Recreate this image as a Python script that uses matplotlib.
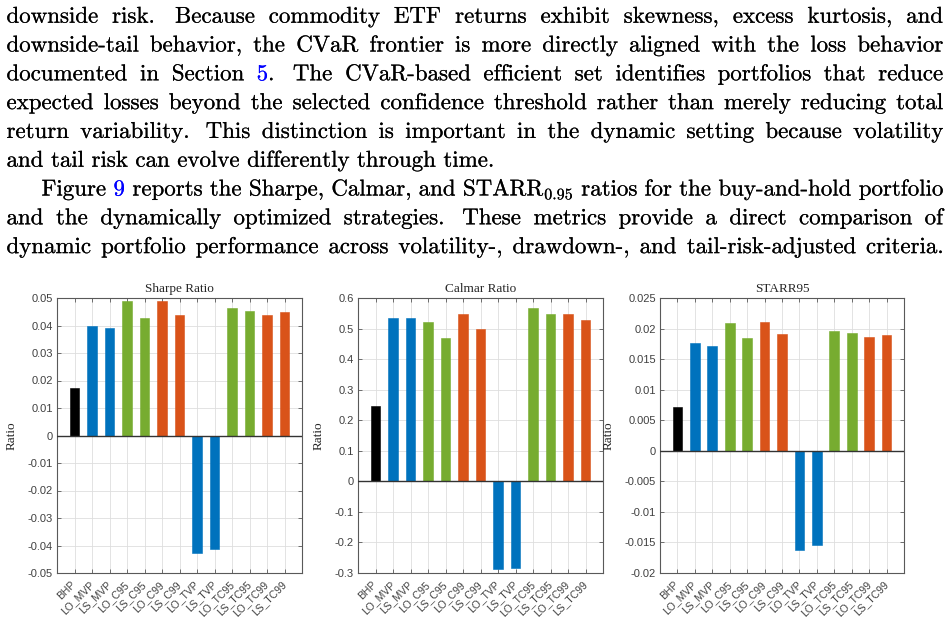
import matplotlib
matplotlib.use("Agg")
import matplotlib.pyplot as plt
import matplotlib.transforms as mtransforms
import matplotlib.patheffects as pe
import re

plt.rcParams['mathtext.fontset'] = 'cm'

# ---------------- data ----------------
categories = ["BHP", "LO_MVP", "LS_MVP", "LO_C95", "LS_C95", "LO_C99", "LS_C99",
              "LO_TVP", "LS_TVP", "LO_TC95", "LS_TC95", "LO_TC99", "LS_TC99"]

sharpe = [0.0174, 0.0399, 0.0390, 0.0488, 0.0429, 0.0488, 0.0440,
          -0.0429, -0.0413, 0.0462, 0.0453, 0.0438, 0.0448]
calmar = [0.245, 0.536, 0.536, 0.521, 0.468, 0.549, 0.500,
          -0.286, -0.283, 0.566, 0.547, 0.547, 0.529]
starr = [0.0072, 0.01756, 0.01718, 0.02095, 0.01849, 0.02105, 0.01909,
         -0.0162, -0.01544, 0.01958, 0.01931, 0.01865, 0.01898]

bar_colors = ["#000000", "#0072BD", "#0072BD", "#77AC30", "#77AC30", "#D95319", "#D95319",
              "#0072BD", "#0072BD", "#77AC30", "#77AC30", "#D95319", "#D95319"]

sharpe_ticks = [-0.05, -0.04, -0.03, -0.02, -0.01, 0, 0.01, 0.02, 0.03, 0.04, 0.05]
sharpe_ticklabels = ["-0.05", "-0.04", "-0.03", "-0.02", "-0.01", "0", "0.01", "0.02", "0.03", "0.04", "0.05"]
calmar_ticks = [-0.3, -0.2, -0.1, 0, 0.1, 0.2, 0.3, 0.4, 0.5, 0.6]
calmar_ticklabels = ["-0.3", "-0.2", "-0.1", "0", "0.1", "0.2", "0.3", "0.4", "0.5", "0.6"]
starr_ticks = [-0.02, -0.015, -0.01, -0.005, 0, 0.005, 0.01, 0.015, 0.02, 0.025]
starr_ticklabels = ["-0.02", "-0.015", "-0.01", "-0.005", "0", "0.005", "0.01", "0.015", "0.02", "0.025"]

titles = ["Sharpe Ratio", "Calmar Ratio", "STARR95"]
ylabel = "Ratio"

# paragraph text («...» = blue link)
text_lines = [
    "downside risk.  Because commodity ETF returns exhibit skewness, excess kurtosis, and",
    "downside-tail behavior, the CVaR frontier is more directly aligned with the loss behavior",
    "documented in Section «5».  The CVaR-based efficient set identifies portfolios that reduce",
    "expected losses beyond the selected confidence threshold rather than merely reducing total",
    "return variability.  This distinction is important in the dynamic setting because volatility",
    "and tail risk can evolve differently through time.",
    "Figure «9» reports the Sharpe, Calmar, and STARR$_{0.95}$ ratios for the buy-and-hold portfolio",
    "and the dynamically optimized strategies.  These metrics provide a direct comparison of",
    "dynamic portfolio performance across volatility-, drawdown-, and tail-risk-adjusted criteria.",
]
justified = [True, True, True, True, True, False, True, True, True]
indented = [False, False, False, False, False, False, True, False, False]

# ---------------- figure ----------------
W, H = 949, 624
fig = plt.figure(figsize=(W / 100, H / 100), dpi=100)
fig.patch.set_facecolor("white")
renderer = fig.canvas.get_renderer()

FS = 16.5
em = FS * 100 / 72
X0, X1 = 6.5, 943.0
IND = 35.0
BASE0, LEAD = 22.7, 28.8
ident = mtransforms.IdentityTransform()


def parse_word(w):
    pieces = []
    for m in re.finditer(r"«([^»]*)»|([^«»]+)", w):
        if m.group(1) is not None:
            pieces.append((m.group(1), "#0000FF"))
        else:
            pieces.append((m.group(2), "black"))
    return pieces


for i, line in enumerate(text_lines):
    y = H - (BASE0 + i * LEAD)
    tokens = re.split(r"( +)", line)
    words, weights = [], []
    for tk in tokens:
        if tk.strip() == "":
            if tk:
                weights.append(1.45 if len(tk) > 1 else 1.0)
        else:
            words.append(tk)
    arts = []
    widths = []
    for w in words:
        pa = []
        tw = 0
        for s, c in parse_word(w):
            t = fig.text(0, 0, s, fontfamily="cmr10", fontsize=FS, color=c,
                         va="baseline", ha="left", transform=ident,
                         path_effects=[pe.withStroke(linewidth=0.12, foreground=c)])
            ww = t.get_window_extent(renderer).width
            pa.append((t, ww))
            tw += ww
        arts.append(pa)
        widths.append(tw)
    xs = X0 + (IND if indented[i] else 0)
    if justified[i] and weights:
        g = (X1 - xs - sum(widths)) / sum(weights)
    else:
        g = 0.333 * em
    x = xs
    for k, pa in enumerate(arts):
        xx = x
        for t, ww in pa:
            t.set_position((xx, y))
            xx += ww
        x += widths[k]
        if k < len(weights):
            x += g * weights[k]

# ---------------- axes ----------------
boxes = [(57, 302), (358, 603), (660, 904)]
top, bottom = 298, 573
datasets = [(sharpe, sharpe_ticks, sharpe_ticklabels),
            (calmar, calmar_ticks, calmar_ticklabels),
            (starr, starr_ticks, starr_ticklabels)]
label_x_px = [18, 325, 615]

axis_col = "#595959"
tick_col = "#404040"

for j, ((l, r), (vals, yt, ytl)) in enumerate(zip(boxes, datasets)):
    ax = fig.add_axes([l / W, 1 - bottom / H, (r - l) / W, (bottom - top) / H])
    x = list(range(1, len(categories) + 1))
    ax.bar(x, vals, width=0.55, color=bar_colors, edgecolor=bar_colors, linewidth=0.4, zorder=3)
    ax.axhline(0, color="#333333", linewidth=1.0, zorder=4)
    ax.set_xlim(0, 14)
    ax.set_ylim(yt[0], yt[-1])
    ax.set_yticks(yt)
    ax.set_yticklabels(ytl, fontfamily="Liberation Sans", fontsize=8, color=tick_col)
    ax.set_xticks(x)
    ax.set_xticklabels(categories, fontfamily="Liberation Sans", fontsize=7.5, color=tick_col,
                       rotation=45, ha="right", va="center", rotation_mode="anchor")
    ax.tick_params(axis="both", direction="in", length=3, width=0.6, color=axis_col,
                   top=True, right=True, pad=3)
    ax.tick_params(axis="x", pad=7)
    ax.grid(True, color="#dedede", linewidth=0.6, zorder=0)
    ax.set_axisbelow(True)
    for sp in ax.spines.values():
        sp.set_color(axis_col)
        sp.set_linewidth(0.8)
    ax.set_title(titles[j], fontfamily="Liberation Serif", fontsize=9.5, color="#262626", pad=4)
    ax.set_ylabel(ylabel, fontfamily="Liberation Serif", fontsize=9.5, color="#262626")
    ax.yaxis.set_label_coords((label_x_px[j] - l) / (r - l), 0.5)

fig.savefig("out.png", dpi=100, facecolor="white")
